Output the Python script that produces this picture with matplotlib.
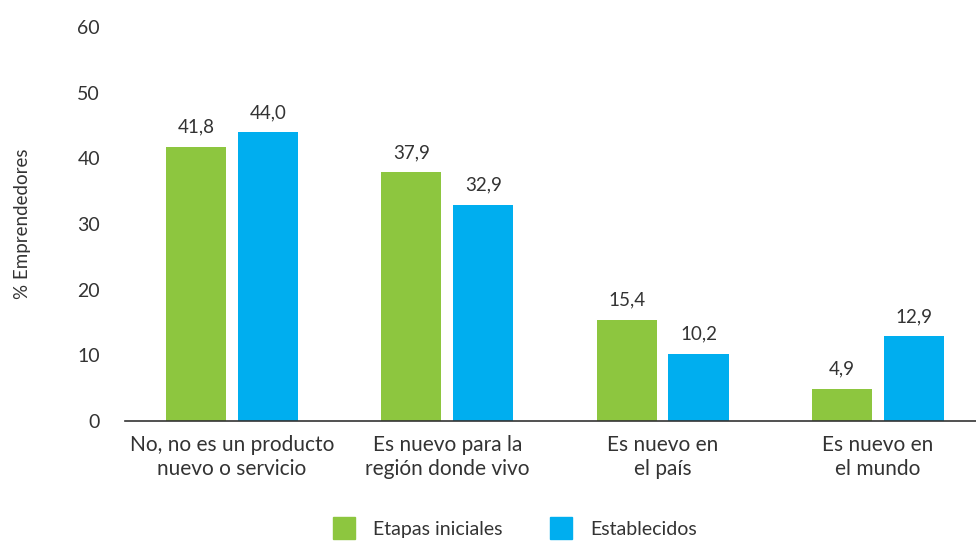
import matplotlib.pyplot as plt
import numpy as np
from matplotlib.lines import Line2D

plt.rcParams['font.family'] = ['Lato', 'DejaVu Sans']

categories = ["No, no es un producto\nnuevo o servicio",
              "Es nuevo para la\nregión donde vivo",
              "Es nuevo en\nel país",
              "Es nuevo en\nel mundo"]
etapas_iniciales = [41.8, 37.9, 15.4, 4.9]
establecidos = [44.0, 32.9, 10.2, 12.9]
series_names = ["Etapas iniciales", "Establecidos"]

GREEN = "#8DC63F"
BLUE = "#00AEEF"
TEXT = "#333333"

fig = plt.figure(figsize=(9.76, 5.41), dpi=100)
ax = fig.add_axes([0.128, 0.222, 0.872, 0.728])

x = np.arange(len(categories))
w = 0.279
off = 0.167
b1 = ax.bar(x - off, etapas_iniciales, w, color=GREEN)
b2 = ax.bar(x + off, establecidos, w, color=BLUE)

for bars, vals in ((b1, etapas_iniciales), (b2, establecidos)):
    for b, v in zip(bars, vals):
        ax.annotate(f"{v:.1f}".replace(".", ","),
                    (b.get_x() + b.get_width() / 2, v),
                    xytext=(0, 8), textcoords="offset points",
                    ha="center", va="bottom", fontsize=13.5, color=TEXT)

ax.set_xlim(-0.497, 3.456)
ax.set_ylim(0, 60)
ax.set_yticks(range(0, 61, 10))
ax.set_xticks(x)
ax.set_xticklabels(categories, fontsize=15, color=TEXT, linespacing=1.25)
ax.tick_params(axis="x", length=0, pad=10)
ax.tick_params(axis="y", length=0, pad=18, labelsize=14, labelcolor=TEXT)
for s in ("top", "right", "left"):
    ax.spines[s].set_visible(False)
ax.spines["bottom"].set_color("#333333")
ax.spines["bottom"].set_linewidth(1.2)
ax.set_ylabel("% Emprendedores", fontsize=13.5, color=TEXT, labelpad=33)

handles = [Line2D([], [], marker="s", linestyle="none", markersize=16,
                  markerfacecolor=c, markeredgecolor=c)
           for c in (GREEN, BLUE)]
fig.legend(handles, series_names, loc="lower center", ncol=2,
           bbox_to_anchor=(0.523, -0.027), frameon=False, fontsize=14,
           handletextpad=0.5, columnspacing=2.0, labelcolor=TEXT)

fig.savefig("out.png")
